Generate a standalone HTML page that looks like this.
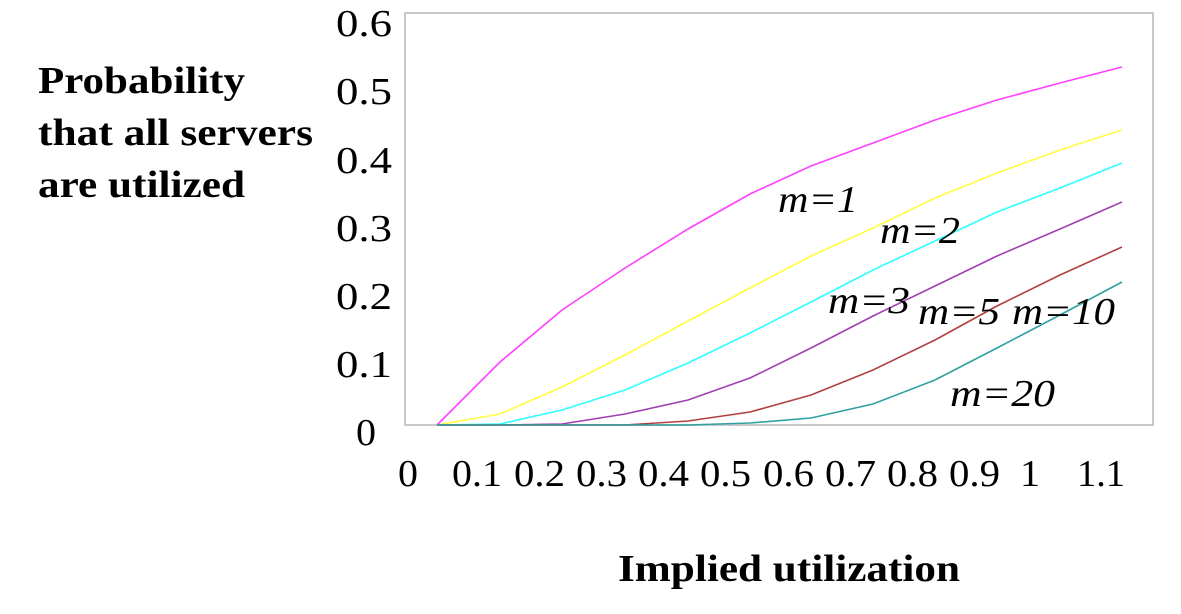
<!DOCTYPE html>
<html><head><meta charset="utf-8"><style>
body{margin:0;background:#fff;}
svg{display:block;}
text{font-family:"Liberation Serif",serif;}
</style></head><body>
<svg width="1181" height="614" viewBox="0 0 1181 614">
<rect x="405" y="13" width="748" height="412" fill="#fff" stroke="#c8c8c8" stroke-width="2"/>
<g font-size="38" fill="#000" lengthAdjust="spacingAndGlyphs">
<text x="336" y="36" textLength="56" lengthAdjust="spacingAndGlyphs">0.6</text>
<text x="336" y="104" textLength="56" lengthAdjust="spacingAndGlyphs">0.5</text>
<text x="336" y="173" textLength="56" lengthAdjust="spacingAndGlyphs">0.4</text>
<text x="336" y="241" textLength="56" lengthAdjust="spacingAndGlyphs">0.3</text>
<text x="336" y="309" textLength="56" lengthAdjust="spacingAndGlyphs">0.2</text>
<text x="336" y="377" textLength="56" lengthAdjust="spacingAndGlyphs">0.1</text>
<text x="356" y="445" textLength="20" lengthAdjust="spacingAndGlyphs">0</text>
</g>
<g font-size="38" fill="#000">
<text x="398" y="486" textLength="20" lengthAdjust="spacingAndGlyphs">0</text>
<text x="452" y="486" textLength="50" lengthAdjust="spacingAndGlyphs">0.1</text>
<text x="514" y="486" textLength="51" lengthAdjust="spacingAndGlyphs">0.2</text>
<text x="576" y="486" textLength="51" lengthAdjust="spacingAndGlyphs">0.3</text>
<text x="638" y="486" textLength="51" lengthAdjust="spacingAndGlyphs">0.4</text>
<text x="700" y="486" textLength="51" lengthAdjust="spacingAndGlyphs">0.5</text>
<text x="763" y="486" textLength="51" lengthAdjust="spacingAndGlyphs">0.6</text>
<text x="825" y="486" textLength="51" lengthAdjust="spacingAndGlyphs">0.7</text>
<text x="887" y="486" textLength="51" lengthAdjust="spacingAndGlyphs">0.8</text>
<text x="949" y="486" textLength="51" lengthAdjust="spacingAndGlyphs">0.9</text>
<text x="1020" y="486" textLength="20" lengthAdjust="spacingAndGlyphs">1</text>
<text x="1077" y="486" textLength="48" lengthAdjust="spacingAndGlyphs">1.1</text>
</g>
<g font-size="38" font-weight="bold" fill="#000">
<text x="38" y="93" textLength="207" lengthAdjust="spacingAndGlyphs">Probability</text>
<text x="38" y="145" textLength="275" lengthAdjust="spacingAndGlyphs">that all servers</text>
<text x="38" y="197" textLength="207" lengthAdjust="spacingAndGlyphs">are utilized</text>
<text x="618" y="581" textLength="342" lengthAdjust="spacingAndGlyphs">Implied utilization</text>
</g>
<g fill="none" stroke-width="1.6">
<polyline stroke="#ff40ff" points="437,425 500,362 562,310 625,268 688,229 750,194 811,166 873,143 935,120 997,100 1060,83 1122,67"/>
<polyline stroke="#ffff40" points="437,425 500,414 562,387 625,355 688,321 750,288 811,256 873,228 935,198 997,173 1060,150 1122,130"/>
<polyline stroke="#30ffff" points="437,425 500,424 562,410 625,390 688,363 750,333 811,302 873,270 935,241 997,212 1060,188 1122,163"/>
<polyline stroke="#a040b0" points="437,425 500,425 562,424 625,414 688,400 750,378 811,348 873,316 935,286 997,256 1060,229 1122,202"/>
<polyline stroke="#b04040" points="437,425 562,425 625,425 688,421 750,412 811,395 873,370 935,340 997,306 1060,275 1122,247"/>
<polyline stroke="#30a0a0" points="437,425 688,425 750,423 811,418 873,404 935,380 997,348 1060,315 1122,282"/>
</g>
<g font-size="38" font-style="italic" fill="#000">
<text x="778" y="212" textLength="80" lengthAdjust="spacingAndGlyphs">m=1</text>
<text x="880" y="243" textLength="80" lengthAdjust="spacingAndGlyphs">m=2</text>
<text x="828" y="313" textLength="82" lengthAdjust="spacingAndGlyphs">m=3</text>
<text x="918" y="324" textLength="82" lengthAdjust="spacingAndGlyphs">m=5</text>
<text x="1012" y="324" textLength="103" lengthAdjust="spacingAndGlyphs">m=10</text>
<text x="950" y="406" textLength="105" lengthAdjust="spacingAndGlyphs">m=20</text>
</g>
</svg>
</body></html>
